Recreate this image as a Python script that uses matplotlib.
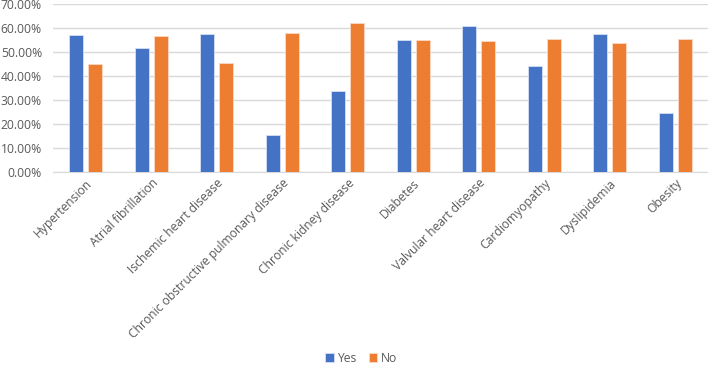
import numpy as np
import matplotlib.pyplot as plt
from matplotlib.ticker import PercentFormatter

categories = ["Hypertension", "Atrial fibrillation", "Ischemic heart disease",
              "Chronic obstructive pulmonary disease", "Chronic kidney disease",
              "Diabetes", "Valvular heart disease", "Cardiomyopathy",
              "Dyslipidemia", "Obesity"]
yes_vals = [57.2, 51.7, 57.5, 15.4, 34.0, 55.1, 61.0, 44.3, 57.5, 24.8]
no_vals = [45.1, 56.8, 45.8, 58.0, 62.1, 55.1, 54.6, 55.7, 53.9, 55.7]

plt.rcParams['font.family'] = ['Open Sans', 'DejaVu Sans']
txt = '#595959'

fig = plt.figure(figsize=(7.08, 3.7), dpi=100)
ax = fig.add_axes([0.075, 0.534, 0.925, 0.454])

x = np.arange(len(categories))
w = 0.215
ax.bar(x - 0.145, yes_vals, w, color='#4472C4', edgecolor='#d6e0f3', linewidth=0.6, label='Yes', zorder=3)
ax.bar(x + 0.145, no_vals, w, color='#ED7D31', edgecolor='#fbd9c4', linewidth=0.6, label='No', zorder=3)

ax.set_xlim(-0.5, len(categories) - 0.5)
ax.set_ylim(0, 70)
ax.set_yticks(np.arange(0, 71, 10))
ax.yaxis.set_major_formatter(PercentFormatter(decimals=2))
ax.grid(axis='y', color='#d9d9d9', linewidth=1, zorder=0)
for s in ['top', 'right', 'left']:
    ax.spines[s].set_visible(False)
ax.spines['bottom'].set_color('#d9d9d9')
ax.tick_params(axis='both', length=0, labelsize=8.7, colors=txt)
ax.tick_params(axis='y', pad=8)
ax.tick_params(axis='x', pad=3)
ax.set_xticks(x)
ax.set_xticklabels(categories, rotation=45, ha='right', rotation_mode='anchor')

fig.legend(loc='lower center', bbox_to_anchor=(0.51, -0.015), ncol=2, frameon=False,
           fontsize=8.7, labelcolor=txt, handlelength=0.7, handleheight=0.7,
           handletextpad=0.3, columnspacing=1.0)

fig.savefig('out.png', dpi=100)
